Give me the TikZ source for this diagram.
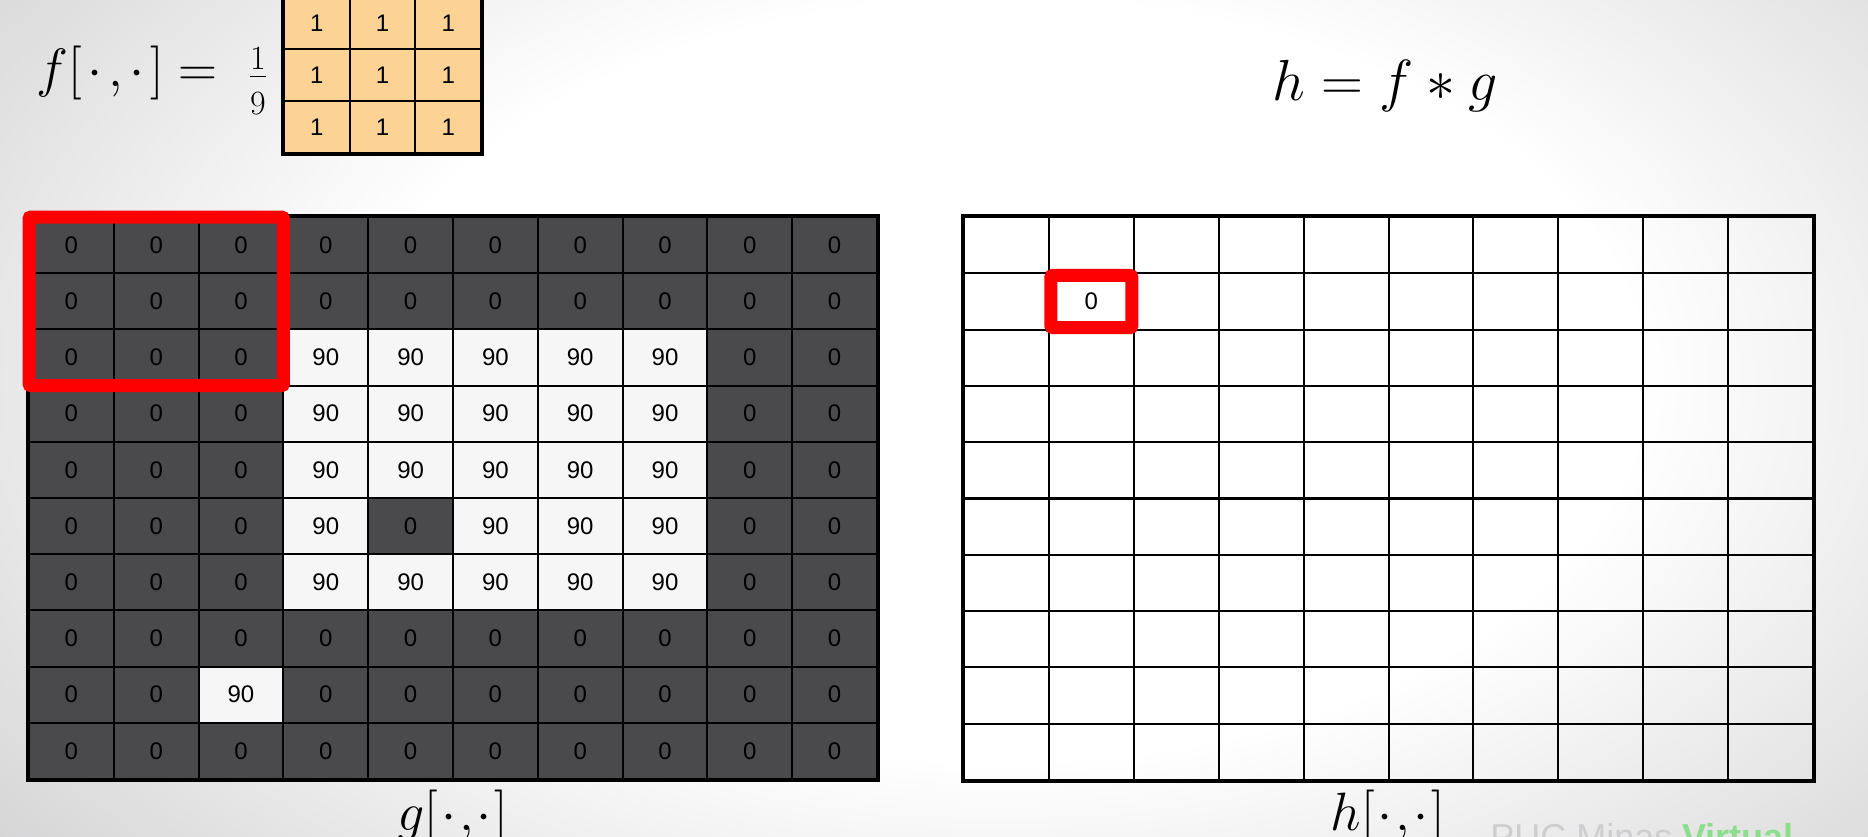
\RequirePackage{fix-cm}
\documentclass[tikz,border=0pt]{standalone}
\usepackage{fontspec}
\setsansfont{Liberation Sans}
\usetikzlibrary{fit}
\definecolor{bgc}{RGB}{192,192,194}
\definecolor{darkc}{RGB}{74,73,75}
\definecolor{lightc}{RGB}{246,246,247}
\definecolor{kern}{RGB}{252,211,148}
\definecolor{pucgray}{RGB}{206,206,208}
\definecolor{pucgreen}{RGB}{140,222,140}
\pgfdeclareradialshading{bgshade}{\pgfpoint{0bp}{0bp}}{color(0bp)=(white); color(10bp)=(white); color(25bp)=(bgc); color(50bp)=(bgc)}
\begin{document}
\begin{tikzpicture}[x=0.5pt,y=-0.5pt,
  cellbase/.style={draw=black, line width=1pt, inner sep=0pt, font=\sffamily\fontsize{12}{14}\selectfont, text=black},
  kcell/.style={cellbase, fill=kern, minimum width=32.85pt, minimum height=26pt},
  gcell/.style={cellbase, minimum width=42.4pt, minimum height=28.1pt},
  hcell/.style={cellbase, minimum width=42.45pt, minimum height=28.1pt},
  frame/.style={draw=black, line width=2pt, inner sep=0pt},
  redbox/.style={draw=red, line width=6.5pt, inner sep=-0.5pt, rounded corners=1pt},
  mathlbl/.style={inner sep=0pt, font=\fontsize{27}{32}\selectfont}]
\useasboundingbox (0,0) rectangle (1868,836);
% background
\begin{scope}
\clip (0,0) rectangle (1868,836);
\fill[bgc] (0,0) rectangle (1868,836);
\shade[shading=bgshade] (1000,380) ellipse (1600 and 950);
\end{scope}
% kernel
\foreach \r in {0,1,2}
  \foreach \c in {0,1,2}
    \node[kcell] (k-\r-\c) at ({284+65.7*(\c+0.5)},{-3+52*(\r+0.5)}) {1};
\node[frame, fit=(k-0-0)(k-2-2)] (kframe) {};
% left grid g
\foreach \r/\vals in {
  0/{0,0,0,0,0,0,0,0,0,0},
  1/{0,0,0,0,0,0,0,0,0,0},
  2/{0,0,0,90,90,90,90,90,0,0},
  3/{0,0,0,90,90,90,90,90,0,0},
  4/{0,0,0,90,90,90,90,90,0,0},
  5/{0,0,0,90,0,90,90,90,0,0},
  6/{0,0,0,90,90,90,90,90,0,0},
  7/{0,0,0,0,0,0,0,0,0,0},
  8/{0,0,90,0,0,0,0,0,0,0},
  9/{0,0,0,0,0,0,0,0,0,0}}
  \foreach \v [count=\c from 0] in \vals {
    \ifnum\v=0 \def\cf{darkc}\else\def\cf{lightc}\fi
    \node[gcell, fill=\cf] (g-\r-\c) at ({29+84.8*(\c+0.5)},{217+56.2*(\r+0.5)}) {\v};
  }
\node[frame, fit=(g-0-0)(g-9-9)] (gframe) {};
% right grid h
\foreach \r in {0,...,9}
  \foreach \c in {0,...,9} {
    \def\t{}
    \ifnum\r=1 \ifnum\c=1 \def\t{0}\fi\fi
    \node[hcell] (h-\r-\c) at ({964+84.9*(\c+0.5)},{217+56.3*(\r+0.5)}) {\t};
  }
\node[frame, fit=(h-0-0)(h-9-9)] (hframe) {};
% red boxes
\node[redbox, fit=(g-0-0)(g-2-2)] (gred) {};
\node[redbox, inner sep=-1.5pt, fit=(h-1-1)] (hred) {};
% labels
\node[mathlbl, anchor=base west] (feq) at (36,86) {$f[\mkern2mu\cdot\mkern2mu{,}\mkern2mu\cdot\mkern2mu] =$};
\node[mathlbl, anchor=base, font=\fontsize{17}{19}\selectfont] (ffrac) at (258,85) {$\displaystyle\frac{\raisebox{-3.5pt}{$1$}}{\raisebox{-3pt}{$9$}}$};
\node[mathlbl, anchor=base west, font=\fontsize{29}{34}\selectfont] (heq) at (1272,100) {$h = f \ast g$};
\node[mathlbl, anchor=base] (glbl) at (453,830) {$g[\mkern1mu\cdot\mkern1mu{,}\mkern1mu\cdot\mkern1mu]$};
\node[mathlbl, anchor=base] (hlbl) at (1388,830) {$h[\mkern1mu\cdot\mkern1mu{,}\mkern1mu\cdot\mkern1mu]$};
% watermark
\node[anchor=base west, inner sep=0pt, font=\sffamily\fontsize{18}{22}\selectfont] (puc) at (1490,849) {\textcolor{pucgray}{PUC Minas} \textcolor{pucgreen}{\bfseries Virtual}};
\end{tikzpicture}
\end{document}
